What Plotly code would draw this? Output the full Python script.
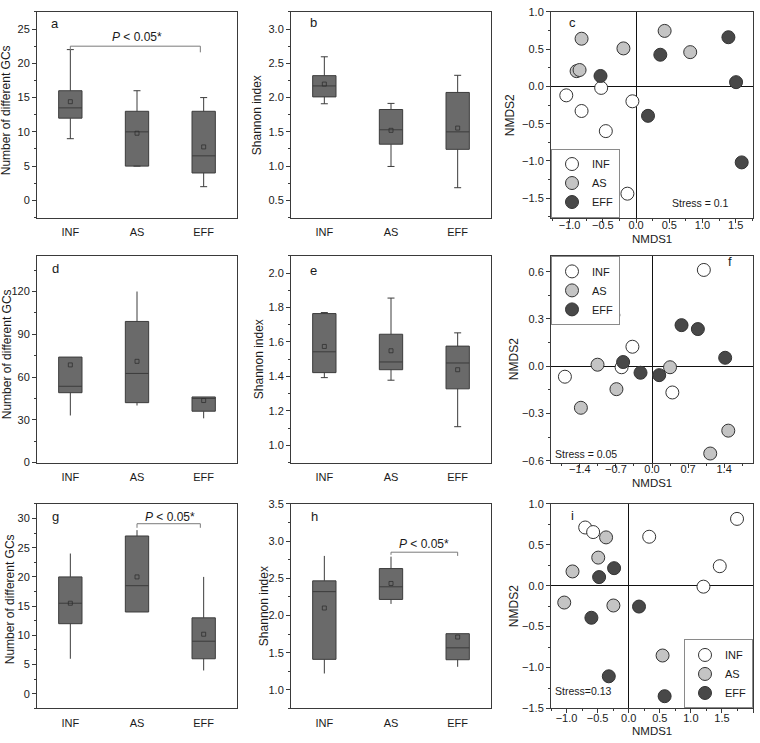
import plotly.graph_objects as go

W, H = 760, 743
FONT = "Liberation Sans, Arial, sans-serif"

categories = ["INF", "AS", "EFF"]
cat_pos = [1, 2, 3]
group_colors = ["#ffffff", "#c4c4c4", "#484848"]

# ---- box panels: a, b, d, e, g, h ----
a_low = [9, 5, 2]
a_q1 = [12, 5, 4]
a_med = [13.5, 10, 6.5]
a_q3 = [16, 13, 13]
a_high = [22, 16, 15]
a_mean = [14.4, 9.8, 7.8]

b_low = [1.91, 0.995, 0.685]
b_q1 = [2.01, 1.32, 1.245]
b_med = [2.17, 1.53, 1.50]
b_q3 = [2.32, 1.826, 2.075]
b_high = [2.595, 1.915, 2.325]
b_mean = [2.197, 1.522, 1.555]

d_low = [33, 40, 31]
d_q1 = [49, 42, 36]
d_med = [53.5, 62.5, 45]
d_q3 = [74, 99, 46]
d_high = [74, 120, 46]
d_mean = [68.5, 71, 43.5]

e_low = [1.393, 1.378, 1.108]
e_q1 = [1.422, 1.439, 1.328]
e_med = [1.543, 1.484, 1.478]
e_q3 = [1.765, 1.645, 1.576]
e_high = [1.771, 1.855, 1.653]
e_mean = [1.574, 1.549, 1.439]

g_low = [6, 14, 4]
g_q1 = [12, 14, 6]
g_med = [15.5, 18.5, 9]
g_q3 = [20, 27, 13]
g_high = [24, 28, 20]
g_mean = [15.5, 20, 10.2]

h_low = [1.22, 2.155, 1.31]
h_q1 = [1.41, 2.215, 1.405]
h_med = [2.32, 2.385, 1.565]
h_q3 = [2.465, 2.63, 1.755]
h_high = [2.8, 2.79, 1.755]
h_mean = [2.10, 2.43, 1.71]

# ---- NMDS panels: c, f, i ----
c_inf_x = [-1.05, -0.525, -0.82, -0.055, -0.455, -0.13]
c_inf_y = [-0.12, -0.02, -0.33, -0.20, -0.60, -1.44]
c_as_x = [-0.82, -0.895, -0.85, -0.19, 0.43, 0.815]
c_as_y = [0.64, 0.205, 0.22, 0.51, 0.745, 0.46]
c_eff_x = [-0.535, 0.365, 0.18, 1.39, 1.505, 1.59]
c_eff_y = [0.14, 0.425, -0.395, 0.66, 0.057, -1.02]

f_inf_x = [1.006, -0.75, -0.38, -0.59, -1.69, 0.395]
f_inf_y = [0.611, 0.325, 0.124, -0.006, -0.066, -0.166]
f_as_x = [-1.057, -0.69, -1.38, 0.35, 1.48, 1.13]
f_as_y = [0.01, -0.145, -0.263, -0.006, -0.408, -0.553]
f_eff_x = [-0.56, -0.223, 0.14, 0.573, 0.89, 1.42]
f_eff_y = [0.027, -0.041, -0.056, 0.261, 0.236, 0.054]

i_inf_x = [-0.70, -0.572, 0.33, 1.743, 1.465, 1.203]
i_inf_y = [0.711, 0.655, 0.598, 0.816, 0.238, -0.012]
i_as_x = [-0.364, -0.49, -0.904, -1.037, -0.246, 0.545]
i_as_y = [0.59, 0.343, 0.174, -0.206, -0.242, -0.853]
i_eff_x = [-0.235, -0.476, -0.60, 0.166, -0.32, 0.578]
i_eff_y = [0.214, 0.105, -0.392, -0.255, -1.107, -1.35]

stress_labels = ["Stress = 0.1", "Stress = 0.05", "Stress=0.13"]
p_label = "<i>P</i> &lt; 0.05*"

# ---- layout geometry (pixels) ----
cols = [(37, 237), (291, 491), (551, 753)]
rows = [(6, 215), (254, 464), (506, 714)]

fig = go.Figure()


def sfx(k):
    return "" if k == 1 else str(k)


def add_box(k, low, q1, med, q3, high, mean, whisker):
    s = sfx(k)
    fig.add_trace(go.Box(
        x=cat_pos, q1=q1, median=med, q3=q3, lowerfence=low, upperfence=high,
        width=0.35, whiskerwidth=whisker, fillcolor="#6a6a6a",
        line=dict(color="#3c3c3c", width=1), boxpoints=False,
        showlegend=False, hoverinfo="skip", xaxis="x" + s, yaxis="y" + s))
    fig.add_trace(go.Scatter(
        x=cat_pos, y=mean, mode="markers",
        marker=dict(symbol="square-open", size=4, color="#303030", line=dict(width=0.8)),
        showlegend=False, hoverinfo="skip", xaxis="x" + s, yaxis="y" + s))


def add_nmds(k, xs_list, ys_list, legend):
    s = sfx(k)
    for name, col, xs, ys in zip(categories, group_colors, xs_list, ys_list):
        fig.add_trace(go.Scatter(
            x=xs, y=ys, mode="markers", name=name,
            marker=dict(size=13, color=col, line=dict(color="#333333", width=1)),
            legend=legend, xaxis="x" + s, yaxis="y" + s))


add_box(1, a_low, a_q1, a_med, a_q3, a_high, a_mean, 0.3)
add_box(2, b_low, b_q1, b_med, b_q3, b_high, b_mean, 0.3)
add_nmds(3, [c_inf_x, c_as_x, c_eff_x], [c_inf_y, c_as_y, c_eff_y], "legend")
add_box(4, d_low, d_q1, d_med, d_q3, d_high, d_mean, 0)
add_box(5, e_low, e_q1, e_med, e_q3, e_high, e_mean, 0.3)
add_nmds(6, [f_inf_x, f_as_x, f_eff_x], [f_inf_y, f_as_y, f_eff_y], "legend2")
add_box(7, g_low, g_q1, g_med, g_q3, g_high, g_mean, 0)
add_box(8, h_low, h_q1, h_med, h_q3, h_high, h_mean, 0)
add_nmds(9, [i_inf_x, i_as_x, i_eff_x], [i_inf_y, i_as_y, i_eff_y], "legend3")

LINE = "#3a3a3a"
base = dict(showline=True, mirror=True, linecolor=LINE, linewidth=1, showgrid=False,
            zeroline=False, ticks="outside", ticklen=4, tickcolor=LINE,
            tickfont=dict(size=11, color="#1a1a1a", family=FONT))

# y axis specs: (range, tick0, dtick)
box_y = {1: ([-2.5, 27.5], 0, 5), 2: ([0.25, 3.25], 0.5, 0.5), 4: ([0, 145], 0, 30),
         5: ([0.9, 2.1], 1.0, 0.2), 7: ([-2.5, 32.5], 0, 5), 8: ([0.75, 3.5], 1.0, 0.5)}
nmds_ax = {3: (([-1.28, 1.76], -1.0, 0.5), ([-1.76, 1.0], -1.5, 0.5)),
           6: (([-1.96, 1.96], -1.4, 0.7), ([-0.61, 0.70], -0.6, 0.3)),
           9: (([-1.25, 2.0], -1.0, 0.5), ([-1.5, 1.0], -1.5, 0.5))}
nmds_xstandoff = {3: -7, 6: -8, 9: -5}

layout = {}
for k in range(1, 10):
    r, c = (k - 1) // 3, (k - 1) % 3
    s = sfx(k)
    xd = [cols[c][0] / W, cols[c][1] / W]
    yd = [1 - rows[r][1] / H, 1 - rows[r][0] / H]
    if k in box_y:
        rng, t0, dt = box_y[k]
        xa = dict(base, domain=xd, anchor="y" + s, range=[0.5, 3.5], tickmode="array",
                  tickvals=cat_pos, ticktext=categories, tickcolor="rgba(0,0,0,0)")
        ya = dict(base, domain=yd, anchor="x" + s, range=rng, tickmode="linear", tick0=t0, dtick=dt,
                  tickformat=".1f" if dt < 1 else "d",
                  minor=dict(ticks="outside", ticklen=2, tickcolor=LINE, dtick=dt / 2, tick0=t0))
    else:
        (xr, xt0, xdt), (yr, yt0, ydt) = nmds_ax[k]
        xa = dict(base, domain=xd, anchor="y" + s, range=xr, tickmode="linear", tick0=xt0, dtick=xdt,
                  tickformat=".1f", zeroline=True, zerolinecolor="#111111", zerolinewidth=1,
                  ticklabelstandoff=nmds_xstandoff[k],
                  minor=dict(ticks="outside", ticklen=2, tickcolor=LINE, dtick=xdt / 2, tick0=xt0))
        ya = dict(base, domain=yd, anchor="x" + s, range=yr, tickmode="linear", tick0=yt0, dtick=ydt,
                  tickformat=".1f", zeroline=True, zerolinecolor="#111111", zerolinewidth=1,
                  minor=dict(ticks="outside", ticklen=2, tickcolor=LINE, dtick=ydt / 2, tick0=yt0))
    layout["xaxis" + s] = xa
    layout["yaxis" + s] = ya

ann = []


def txt(x, y, text, size=12, angle=0, xanchor="center", yanchor="middle"):
    ann.append(dict(x=x / W, y=1 - y / H, xref="paper", yref="paper", text=text, showarrow=False,
                    textangle=angle, xanchor=xanchor, yanchor=yanchor,
                    font=dict(size=size, color="#1a1a1a", family=FONT)))


# panel letters
for letter, (px, py) in zip("abcdefghi", [(55, 18), (313, 17), (572, 17), (56, 267), (313, 269),
                                          (730, 260), (55, 519), (314, 519), (572, 518)]):
    txt(px, py, letter, size=13)

# axis titles
for px, py in [(6, 106), (7, 354), (10, 603)]:
    txt(px, py, "Number of different GCs", angle=-90)
for px, py in [(257, 111), (259, 359), (264, 610)]:
    txt(px, py, "Shannon index", angle=-90)
for px, py in [(510, 111), (514, 359), (514, 610)]:
    txt(px, py, "NMDS2", angle=-90)
for py in [237, 485, 737]:
    txt(652, py, "NMDS1", size=11.5)

# stress labels
for (px, py), lab in zip([(700, 200), (586, 455), (583, 696)], stress_labels):
    txt(px, py, lab, size=10.5)

# significance brackets (data coordinates)
brackets = [  # (panel, x_start, x_end, y_bar, y_drop_left, y_drop_right, text_x, text_y)
    (1, 1, 2.95, 22.5, 21.9, 21.6, 2.0, 23.9),
    (7, 2, 2.95, 29.1, 28.4, 28.4, 2.5, 30.3),
    (8, 2, 3.0, 2.85, 2.815, 2.80, 2.5, 2.96),
]
shapes = []
for k, x0, x1, yb, yl, yr_, tx, ty in brackets:
    s = sfx(k)
    shapes.append(dict(type="path", xref="x" + s, yref="y" + s,
                       path=f"M {x0},{yl} L {x0},{yb} L {x1},{yb} L {x1},{yr_}",
                       line=dict(color="#7a7a7a", width=1)))
    ann.append(dict(x=tx, y=ty, xref="x" + s, yref="y" + s, text=p_label, showarrow=False,
                    font=dict(size=12, color="#1a1a1a", family=FONT)))

leg = dict(bgcolor="white", bordercolor="#8a8a8a", borderwidth=1, itemwidth=30,
           font=dict(size=11, color="#1a1a1a", family=FONT), tracegroupgap=0)

layout.update(
    width=W, height=H, margin=dict(l=0, r=0, t=0, b=0),
    paper_bgcolor="white", plot_bgcolor="white",
    font=dict(family=FONT, size=11, color="#1a1a1a"),
    annotations=ann, shapes=shapes,
    legend=dict(leg, x=551 / W, y=1 - 215 / H, xanchor="left", yanchor="bottom"),
    legend2=dict(leg, x=551 / W, y=1 - 254 / H, xanchor="left", yanchor="top"),
    legend3=dict(leg, x=753 / W, y=1 - 714 / H, xanchor="right", yanchor="bottom"),
)
fig.update_layout(layout)

fig.write_html("out.html", config={"displayModeBar": False},
               post_script="document.body.style.margin='0';document.body.style.overflow='hidden';")
